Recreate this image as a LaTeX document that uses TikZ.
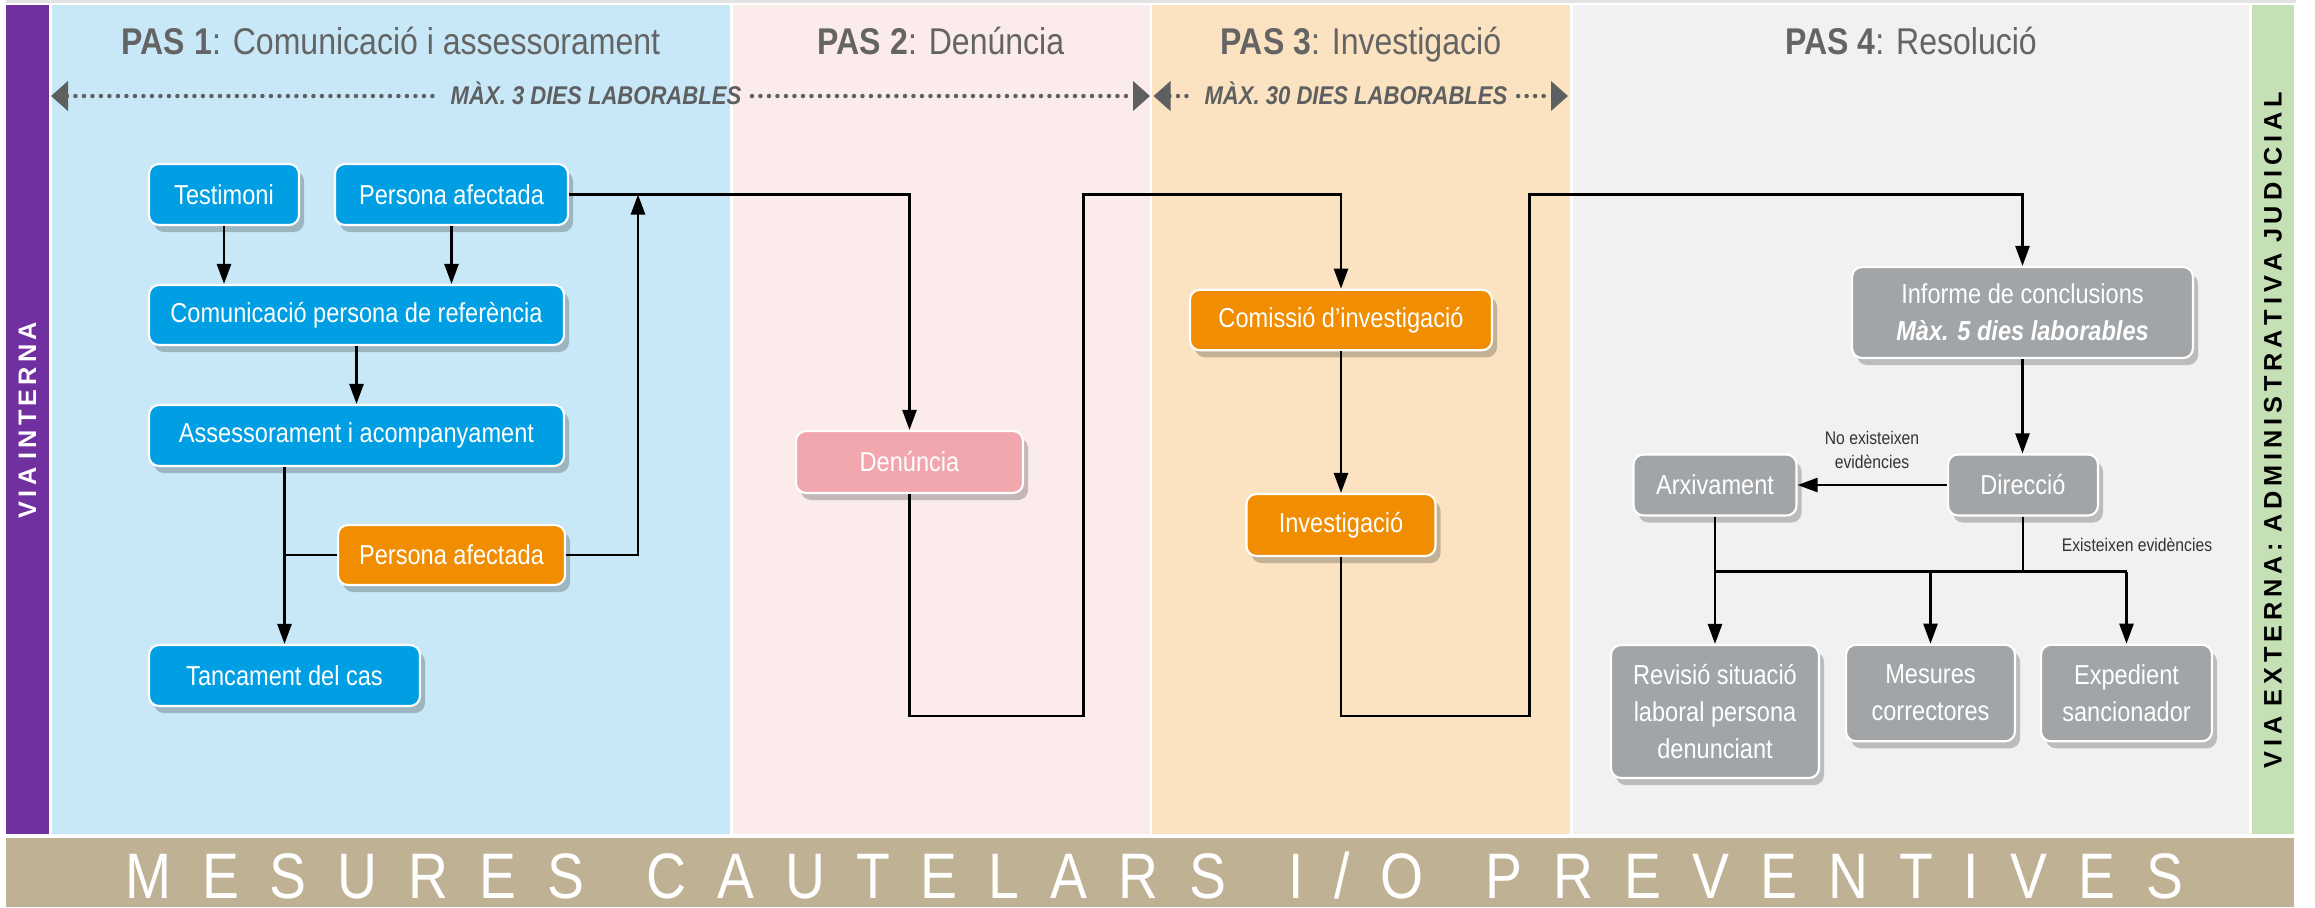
\documentclass[tikz,border=0pt]{standalone}
\usepackage{fontspec}
\setmainfont{Liberation Sans}[FakeStretch=0.86]
\newfontfamily\widefont{Liberation Sans}
\usetikzlibrary{arrows.meta,shadows}
\definecolor{cblue}{HTML}{009FE3}
\definecolor{corange}{HTML}{F08D00}
\definecolor{cpink}{HTML}{F2A6AD}
\definecolor{cgrey}{HTML}{A2A5A8}
\definecolor{bgblue}{HTML}{C8E8F8}
\definecolor{bgpink}{HTML}{FCEBEB}
\definecolor{bgorange}{HTML}{FBE3C1}
\definecolor{bggrey}{HTML}{F1F1F1}
\definecolor{cpurple}{HTML}{7030A0}
\definecolor{cgreen}{HTML}{C5E0B4}
\definecolor{ctan}{HTML}{BFB294}
\definecolor{tgrey}{HTML}{646464}
\definecolor{dgrey}{HTML}{5E5F61}
\definecolor{topgrey}{HTML}{E3E3E3}
\newcommand\bxf{\fontsize{7.8pt}{10.5pt}\selectfont}
\newcommand\ttlf{\fontsize{10.6pt}{12pt}\selectfont}
\newcommand\dotf{\fontsize{7.3pt}{9pt}\selectfont\bfseries\itshape}
\newcommand\smf{\fontsize{5.2pt}{6.6pt}\selectfont}
\tikzset{
  dtip/.tip={Triangle[length=1.7mm, width=2.9mm]},
  flowbox/.style={rounded corners=1mm, draw=white, line width=0.6pt, text=white,
    align=center, font=\bxf, inner sep=0pt,
    drop shadow={shadow xshift=0.5mm, shadow yshift=-0.7mm, opacity=0.22, fill=black}},
  conn/.style={draw=black, line width=0.25mm},
  arr/.style={conn, -{Triangle[length=2mm, width=1.4mm]}},
  dotline/.style={draw=dgrey, line width=0.45mm, line cap=round, dash pattern=on 0pt off 0.85mm},
  ttl/.style={text=tgrey, font=\ttlf, anchor=base},
  dotlab/.style={text=dgrey, font=\dotf, anchor=base, inner xsep=1mm},
  smlab/.style={text=black!80, font=\smf, align=center},
}
\begin{document}
\begin{tikzpicture}[x=0.1mm, y=-0.1mm]
\useasboundingbox (0,0) rectangle (2315,907);
% backgrounds
\fill[topgrey] (6,0) rectangle (2296,3);
\fill[cpurple] (6,5) rectangle (49,834);
\fill[bgblue] (52,5) rectangle (730,834);
\fill[bgpink] (732.5,5) rectangle (1149.5,834);
\fill[bgorange] (1152,5) rectangle (1570,834);
\fill[bggrey] (1573,5) rectangle (2249,834);
\fill[cgreen] (2252,5) rectangle (2294,834);
\fill[ctan] (6,838) rectangle (2294,907);
% titles
\node[ttl] (t1) at (391,54.5) {\textbf{PAS 1}: Comunicació i assessorament};
\node[ttl] (t2) at (941,54.5) {\textbf{PAS 2}: Denúncia};
\node[ttl] (t3) at (1361,54.5) {\textbf{PAS 3}: Investigació};
\node[ttl] (t4) at (1911,54.5) {\textbf{PAS 4}: Resolució};
% dotted time arrows
\coordinate (L1) at (51,96);
\coordinate (R1) at (1150,96);
\coordinate (L2) at (1153.5,96);
\coordinate (R2) at (1568,96);
\node[dotlab] (d1) at (596,104.5) {MÀX. 3 DIES LABORABLES};
\node[dotlab] (d2) at (1356,104.5) {MÀX. 30 DIES LABORABLES};
\draw[dotline, dtip-] (L1) -- (L1 -| d1.west);
\draw[dotline, -dtip] (d1.east |- R1) -- (R1);
\draw[dotline, dtip-] (L2) -- (L2 -| d2.west);
\draw[dotline, -dtip] (d2.east |- R2) -- (R2);
% side labels
\node[rotate=90, text=white, font=\widefont\bfseries\fontsize{7.2pt}{8pt}\selectfont] (vi) at (27.5,420)
  {\makebox[19.6mm][s]{V\hfill I\hfill A\hfill\hfill I\hfill N\hfill T\hfill E\hfill R\hfill N\hfill A}};
\node[rotate=90, text=black, font=\widefont\bfseries\fontsize{7.2pt}{8pt}\selectfont] (ve) at (2273,430)
  {\makebox[67.6mm][s]{V\hfill I\hfill A\hfill\hfill E\hfill X\hfill T\hfill E\hfill R\hfill N\hfill A\hfill :\hfill\hfill A\hfill D\hfill M\hfill I\hfill N\hfill I\hfill S\hfill T\hfill R\hfill A\hfill T\hfill I\hfill V\hfill A\hfill\hfill J\hfill U\hfill D\hfill I\hfill C\hfill I\hfill A\hfill L}};
% bottom band
\node[text=white, anchor=base, font=\fontsize{18.3pt}{20pt}\selectfont] (mc) at (1154,898)
  {\makebox[205.8mm][s]{M\hfill E\hfill S\hfill U\hfill R\hfill E\hfill S\hfill\hfill C\hfill A\hfill U\hfill T\hfill E\hfill L\hfill A\hfill R\hfill S\hfill\hfill I\hfill /\hfill O\hfill\hfill P\hfill R\hfill E\hfill V\hfill E\hfill N\hfill T\hfill I\hfill V\hfill E\hfill S}};
% PAS 1 boxes
\node[flowbox, fill=cblue, minimum width=15mm, minimum height=6.1mm] (test) at (224,194.5) {Testimoni};
\node[flowbox, fill=cblue, minimum width=23.3mm, minimum height=6.1mm] (pa1) at (451.5,194.5) {Persona afectada};
\node[flowbox, fill=cblue, minimum width=41.5mm, minimum height=6mm] (com) at (356.5,315) {Comunicació persona de referència};
\node[flowbox, fill=cblue, minimum width=41.5mm, minimum height=6.1mm] (ass) at (356.5,435.5) {Assessorament i acompanyament};
\node[flowbox, fill=corange, minimum width=22.7mm, minimum height=6mm] (pa2) at (451.5,555) {Persona afectada};
\node[flowbox, fill=cblue, minimum width=27.1mm, minimum height=6.1mm] (tanc) at (284.5,675.5) {Tancament del cas};
% PAS 2
\node[flowbox, fill=cpink, minimum width=22.7mm, minimum height=6.2mm] (den) at (909.5,462) {Denúncia};
% PAS 3
\node[flowbox, fill=corange, minimum width=30.2mm, minimum height=6.05mm] (cinv) at (1341,320) {Comissió d’investigació};
\node[flowbox, fill=corange, minimum width=18.9mm, minimum height=6.2mm] (inv) at (1341,525) {Investigació};
% PAS 4
\node[flowbox, fill=cgrey, minimum width=34.1mm, minimum height=9.1mm] (inf) at (2022.5,312.5) {Informe de conclusions\\\textbf{\itshape Màx. 5 dies laborables}};
\node[flowbox, fill=cgrey, minimum width=15mm, minimum height=6.1mm] (dir) at (2023,485) {Direcció};
\node[flowbox, fill=cgrey, minimum width=16.3mm, minimum height=6.1mm] (arx) at (1715,485) {Arxivament};
\node[flowbox, fill=cgrey, minimum width=20.8mm, minimum height=13.3mm] (rev) at (1715,711.5) {Revisió situació\\laboral persona\\denunciant};
\node[flowbox, fill=cgrey, minimum width=16.9mm, minimum height=9.65mm] (mes) at (1930.5,693) {Mesures\\correctores};
\node[flowbox, fill=cgrey, minimum width=17.1mm, minimum height=9.65mm] (exp) at (2126.5,693) {Expedient\\sancionador};
% connectors PAS 1
\draw[arr] (test.south) -- (test.south |- com.north);
\draw[arr] (pa1.south) -- (pa1.south |- com.north);
\draw[arr] (com.south) -- (ass.north);
\draw[arr] (tanc.north |- ass.south) -- (tanc.north);
\draw[conn] (pa2.west) -- (tanc.north |- pa2.west);
\coordinate (j1) at (638,194.5);
\draw[arr] (pa2.east) -| (j1);
\draw[arr] (pa1.east) -| (den.north);
% PAS 2 -> PAS 3
\coordinate (b1) at (1083.5,716);
\coordinate (u1) at (1083.5,194.5);
\draw[arr] (den.south) |- (b1) -- (u1) -| (cinv.north);
\draw[arr] (cinv.south) -- (inv.north);
% PAS 3 -> PAS 4
\coordinate (b2) at (1529.5,716);
\coordinate (u2) at (1529.5,194.5);
\draw[arr] (inv.south) |- (b2) -- (u2) -| (inf.north);
\draw[arr] (inf.south) -- (inf.south |- dir.north);
\draw[arr] (dir.west) -- (arx.east);
\node[smlab] (lno) at (1872,450) {No existeixen\\evidències};
\coordinate (jd) at (2023,571.5);
\draw[conn] (dir.south) -- (jd);
\draw[conn] (arx.south |- jd) -- (exp.north |- jd);
\draw[arr] (arx.south) -- (rev.north);
\draw[arr] (mes.north |- jd) -- (mes.north);
\draw[arr] (exp.north |- jd) -- (exp.north);
\node[smlab] (lyes) at (2137,545) {Existeixen evidències};
\end{tikzpicture}
\end{document}
